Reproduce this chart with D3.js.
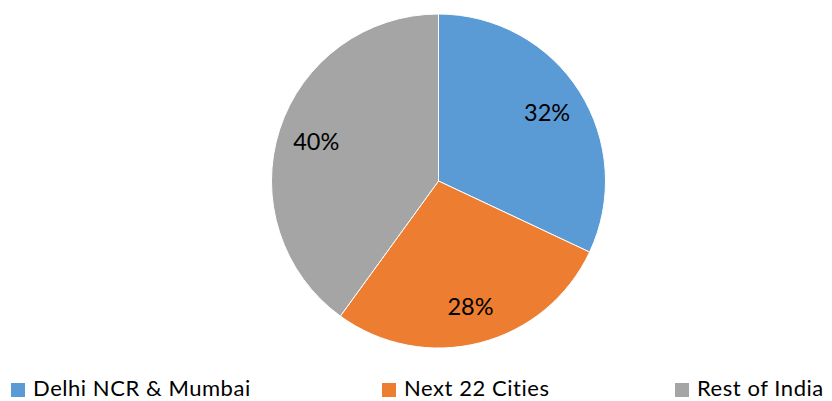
<!DOCTYPE html>
<html>
<head>
<meta charset="utf-8">
<script src="https://cdn.jsdelivr.net/npm/d3@7"></script>
<style>
  html, body { margin: 0; padding: 0; background: #fff; }
  svg { display: block; font-family: Lato, "Open Sans", sans-serif; }
</style>
</head>
<body>
<svg id="chart" width="832" height="401"></svg>
<script>
// Market share by city group
const categories = ["Delhi NCR & Mumbai", "Next 22 Cities", "Rest of India"];
const values = [32, 28, 40];
const colors = ["#5B9BD5", "#ED7D31", "#A5A5A5"];

const svg = d3.select("#chart");
const cx = 438.5, cy = 181, radius = 167;

const pie = d3.pie().sort(null).value(d => d.value);
const arcs = pie(categories.map((c, i) => ({ name: c, value: values[i], color: colors[i] })));

const arc = d3.arc().innerRadius(0).outerRadius(radius);
const labelArc = d3.arc().innerRadius(radius * 0.77).outerRadius(radius * 0.77);

const g = svg.append("g").attr("transform", `translate(${cx},${cy})`);

g.selectAll("path.slice")
  .data(arcs)
  .join("path")
  .attr("class", "slice")
  .attr("d", arc)
  .attr("fill", d => d.data.color)
  .attr("stroke", "#ffffff")
  .attr("stroke-width", 1);

g.selectAll("text.pct")
  .data(arcs)
  .join("text")
  .attr("class", "pct")
  .attr("transform", d => `translate(${labelArc.centroid(d)})`)
  .attr("text-anchor", "middle")
  .attr("dominant-baseline", "central")
  .attr("font-size", 23.5)
  .attr("fill", "#000")
  .text(d => d.data.value + "%");

// Legend
const legendX = [11, 382, 675];
const legend = svg.append("g");
const items = legend.selectAll("g.item")
  .data(arcs)
  .join("g")
  .attr("class", "item")
  .attr("transform", (d, i) => `translate(${legendX[i]},383)`);

items.append("rect")
  .attr("width", 14)
  .attr("height", 14)
  .attr("fill", d => d.data.color);

items.append("text")
  .attr("x", 22)
  .attr("y", 12.5)
  .attr("font-size", 22)
  .attr("letter-spacing", 0.55)
  .attr("fill", "#000")
  .text(d => d.data.name);
</script>
</body>
</html>
